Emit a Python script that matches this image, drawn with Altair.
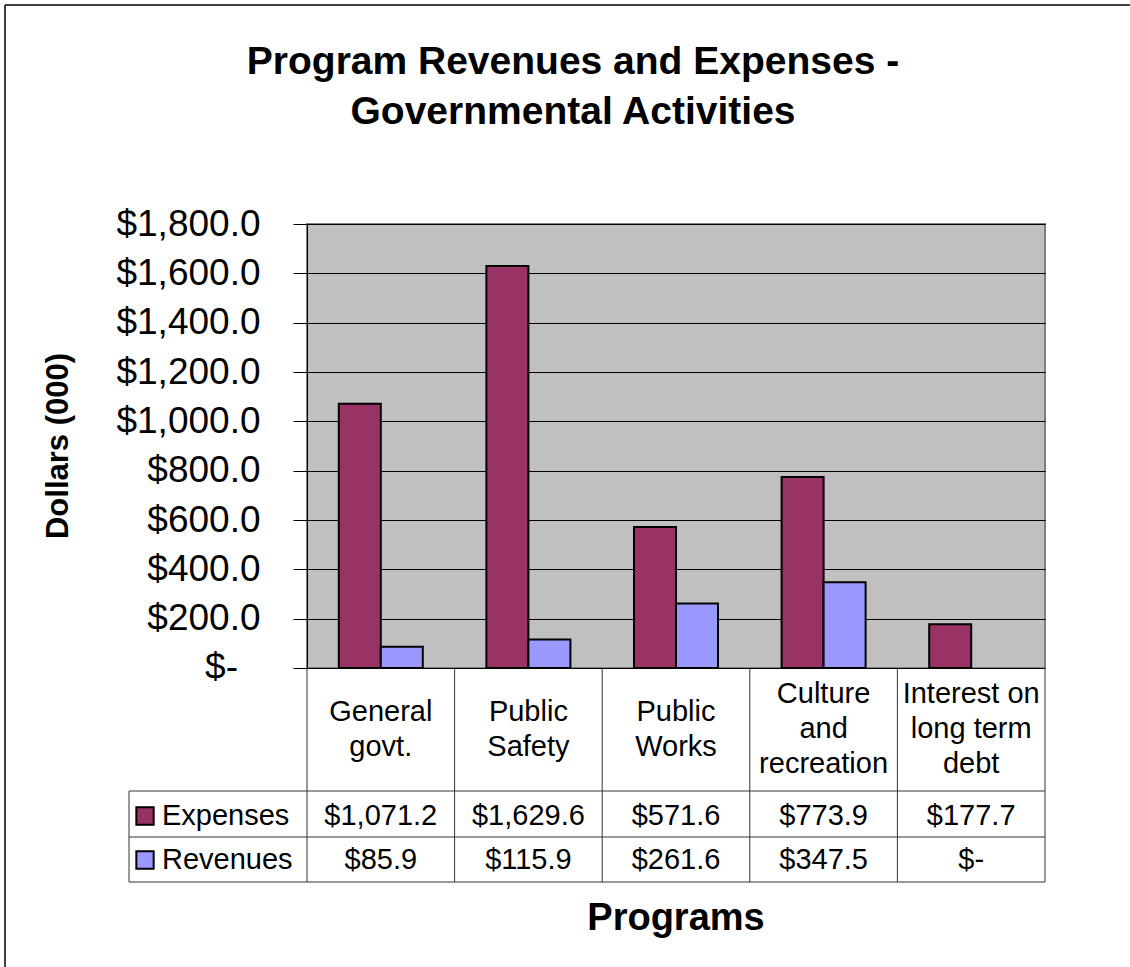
import altair as alt
import pandas as pd

categories = ["General govt.", "Public Safety", "Public Works", "Culture and recreation", "Interest on long term debt"]
header_labels = ["General\ngovt.", "Public\nSafety", "Public\nWorks", "Culture\nand\nrecreation", "Interest on\nlong term\ndebt"]
series = ["Expenses", "Revenues"]
expenses = [1071.2, 1629.6, 571.6, 773.9, 177.7]
revenues = [85.9, 115.9, 261.6, 347.5, 0.0]
colors = ["#993366", "#9999FF"]
y_ticks = [0, 200, 400, 600, 800, 1000, 1200, 1400, 1600, 1800]
title_lines = ["Program Revenues and Expenses -", "Governmental Activities"]
y_title = "Dollars (000)"
x_title = "Programs"

FONT = "Liberation Sans"
W, H = 738, 444
TFS = 29  # table font size


def fmt(v):
    return "$-" if v == 0 else "${:,.1f}".format(v)


rows = []
for s, vals in zip(series, [expenses, revenues]):
    for c, v in zip(categories, vals):
        rows.append({"cat": c, "series": s, "value": v, "label": fmt(v)})
df = pd.DataFrame(rows)
cat_df = pd.DataFrame({"cat": categories, "header": header_labels,
                       "nl": [h.count("\n") + 1 for h in header_labels]})
ser_df = pd.DataFrame({"series": series})
zero_df = pd.DataFrame({"v": [t for t in y_ticks if t == 0], "t": ["$-"]})

xscale = alt.Scale(domain=categories, paddingInner=0, paddingOuter=0)
yscale = alt.Scale(domain=[0, 1800], nice=False)
cscale = alt.Scale(domain=series, range=colors)

bars = alt.Chart(df).transform_filter("datum.value > 0").mark_bar(
    stroke="black", strokeWidth=2
).encode(
    x=alt.X("cat:N", sort=categories, scale=xscale,
            axis=alt.Axis(labels=False, ticks=False, title=None, domain=True,
                          domainColor="black", domainWidth=1, grid=False)),
    xOffset=alt.XOffset("series:N", sort=series,
                        scale=alt.Scale(domain=series, paddingInner=0, paddingOuter=0.757)),
    y=alt.Y("value:Q", scale=yscale,
            axis=alt.Axis(values=y_ticks, title=None, grid=True, gridColor="black", gridWidth=1,
                          gridOpacity=1, domainColor="black", domainWidth=1,
                          tickColor="black", tickSize=14, tickWidth=1,
                          labelFontSize=37, labelColor="black", labelPadding=33, labelFont=FONT,
                          labelExpr="datum.value == 0 ? '' : '$' + format(datum.value, ',.1f')")),
    color=alt.Color("series:N", scale=cscale, legend=None),
)

zero_label = alt.Chart(zero_df).mark_text(
    font=FONT, fontSize=37, align="right", baseline="middle", color="black"
).encode(x=alt.value(238 - 307), y=alt.Y("v:Q", scale=yscale), text="t:N")

# table header labels (multi-line, vertically centred in the header row)
LH = 35
header_layers = []
for n in sorted(set(cat_df["nl"])):
    header_layers.append(alt.Chart(cat_df).transform_filter(alt.datum.nl == int(n)).mark_text(
        font=FONT, fontSize=TFS, lineBreak="\n", lineHeight=LH, baseline="middle", align="center", color="black"
    ).encode(
        x=alt.X("cat:N", sort=categories, scale=xscale, axis=None),
        y=alt.value(729 - 224 - (int(n) - 1) * LH / 2),
        text="header:N",
    ))

row_y = {"Expenses": 816 - 224, "Revenues": 860 - 224}
value_layers = []
for s in series:
    value_layers.append(
        alt.Chart(df).transform_filter(alt.datum.series == s).mark_text(
            font=FONT, fontSize=TFS, baseline="middle", align="center", color="black"
        ).encode(
            x=alt.X("cat:N", sort=categories, scale=xscale, axis=None),
            y=alt.value(row_y[s]),
            text="label:N",
        )
    )

# legend swatches and names in table
swatch_layers = []
for s in series:
    base = alt.Chart(ser_df).transform_filter(alt.datum.series == s)
    swatch_layers.append(base.mark_square(size=300, stroke="black", strokeWidth=2, opacity=1).encode(
        x=alt.value(145 - 307), y=alt.value(row_y[s]),
        color=alt.Color("series:N", scale=cscale, legend=None)))
    swatch_layers.append(base.mark_text(font=FONT, fontSize=TFS, align="left", baseline="middle", color="black").encode(
        x=alt.value(162 - 307), y=alt.value(row_y[s]), text="series:N"))

one = alt.Data(values=[{"a": 1}])
LINE = "#333333"
vlines = alt.Chart(cat_df).mark_rule(color=LINE, strokeWidth=1).encode(
    x=alt.X("cat:N", sort=categories, scale=xscale, axis=None, bandPosition=0),
    y=alt.value(H), y2=alt.value(882 - 224),
)
extra_rules = [
    alt.Chart(one).mark_rule(color=LINE, strokeWidth=1).encode(x=alt.value(W), y=alt.value(H), y2=alt.value(882 - 224)),
    alt.Chart(one).mark_rule(color=LINE, strokeWidth=1).encode(x=alt.value(129 - 307), y=alt.value(791 - 224), y2=alt.value(882 - 224)),
]
for yy in [791, 837, 882]:
    extra_rules.append(alt.Chart(one).mark_rule(color=LINE, strokeWidth=1).encode(
        x=alt.value(129 - 307), x2=alt.value(W), y=alt.value(yy - 224)))
extra_rules.append(alt.Chart(one).mark_rule(color="black", strokeWidth=1.5).encode(
    x=alt.value(5 - 307), y=alt.value(5 - 224), y2=alt.value(967 - 224)))
extra_rules.append(alt.Chart(one).mark_rule(color="black", strokeWidth=1.5).encode(
    x=alt.value(5 - 307), x2=alt.value(1130 - 307), y=alt.value(5 - 224)))

titles = []
for i, t in enumerate(title_lines):
    titles.append(alt.Chart(pd.DataFrame({"t": [t]})).mark_text(
        font=FONT, fontSize=39, fontWeight="bold", align="center", baseline="alphabetic", color="black"
    ).encode(x=alt.value(573 - 307), y=alt.value([74, 124][i] - 224), text="t:N"))
titles.append(alt.Chart(pd.DataFrame({"t": [y_title]})).mark_text(
    font=FONT, fontSize=31, fontWeight="bold", align="center", baseline="middle", angle=270, color="black"
).encode(x=alt.value(59 - 307), y=alt.value(446 - 224), text="t:N"))
titles.append(alt.Chart(pd.DataFrame({"t": [x_title]})).mark_text(
    font=FONT, fontSize=38, fontWeight="bold", align="center", baseline="alphabetic", color="black"
).encode(x=alt.value(676 - 307), y=alt.value(930 - 224), text="t:N"))

chart = alt.layer(
    bars, zero_label, *header_layers, vlines, *extra_rules, *value_layers, *swatch_layers, *titles
).properties(
    width=W, height=H,
    autosize=alt.AutoSizeParams(type="none"),
    padding={"left": 307, "top": 224, "right": 1130 - 307 - W, "bottom": 967 - 224 - H},
    background="white",
).configure(font=FONT).configure_view(
    fill="#C0C0C0", stroke="#808080", strokeWidth=2
)

chart.save("out.html", embed_options={"renderer": "svg", "actions": False})
